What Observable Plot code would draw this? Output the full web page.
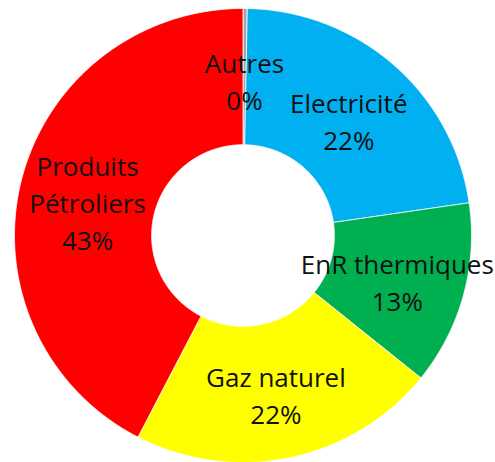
<!DOCTYPE html>
<html>
<head>
<meta charset="utf-8">
<script src="https://cdn.jsdelivr.net/npm/d3@7"></script>
<script src="https://cdn.jsdelivr.net/npm/@observablehq/plot@0.6"></script>
<style>
  html, body { margin: 0; padding: 0; background: #fff; }
  svg { display: block; }
</style>
</head>
<body>
<div id="chart"></div>
<script>
const categories = ["Autres", "Electricité", "EnR thermiques", "Gaz naturel", "Produits Pétroliers"];
const values = [0.3, 22.4, 13.1, 21.8, 42.4];
const percentLabels = ["0%", "22%", "13%", "22%", "43%"];
const labelNames = ["Autres", "Electricité", "EnR thermiques", "Gaz naturel", "Produits\nPétroliers"];
const colors = ["#A5A5A5", "#00B0F0", "#00B050", "#FFFF00", "#FF0000"];

const innerR = 0.4, outerR = 1, labelR = 0.7;
const arcs = d3.pie().sort(null).value(d => d)(values);

const pts = [];
arcs.forEach((a, i) => {
  const n = Math.max(2, Math.ceil((a.endAngle - a.startAngle) / 0.01));
  const ring = [];
  for (let k = 0; k <= n; k++) {
    const t = a.startAngle + (a.endAngle - a.startAngle) * k / n;
    ring.push({name: categories[i], x: outerR * Math.sin(t), y: outerR * Math.cos(t)});
  }
  for (let k = n; k >= 0; k--) {
    const t = a.startAngle + (a.endAngle - a.startAngle) * k / n;
    ring.push({name: categories[i], x: innerR * Math.sin(t), y: innerR * Math.cos(t)});
  }
  ring.push({...ring[0]});
  pts.push(...ring);
});

const labels = arcs.map((a, i) => {
  const m = (a.startAngle + a.endAngle) / 2;
  return {
    x: labelR * Math.sin(m),
    y: labelR * Math.cos(m),
    text: labelNames[i] + "\n" + percentLabels[i]
  };
});

const chart = Plot.plot({
  width: 495,
  height: 462,
  marginLeft: 14,
  marginRight: 24,
  marginTop: 8,
  marginBottom: 0,
  style: {background: "#fff", fontFamily: "'Open Sans', sans-serif"},
  x: {domain: [-1, 1], axis: null},
  y: {domain: [-1, 1], axis: null},
  color: {domain: categories, range: colors},
  marks: [
    Plot.line(pts, {x: "x", y: "y", z: "name", fill: "name", stroke: "white", strokeWidth: 0.75, curve: "linear"}),
    Plot.text(labels, {x: "x", y: "y", text: "text", fontSize: 26, lineHeight: 1.42, fill: "#111", dy: 3, fontFamily: "'Open Sans', sans-serif"})
  ]
});
document.getElementById("chart").appendChild(chart);
</script>
</body>
</html>
